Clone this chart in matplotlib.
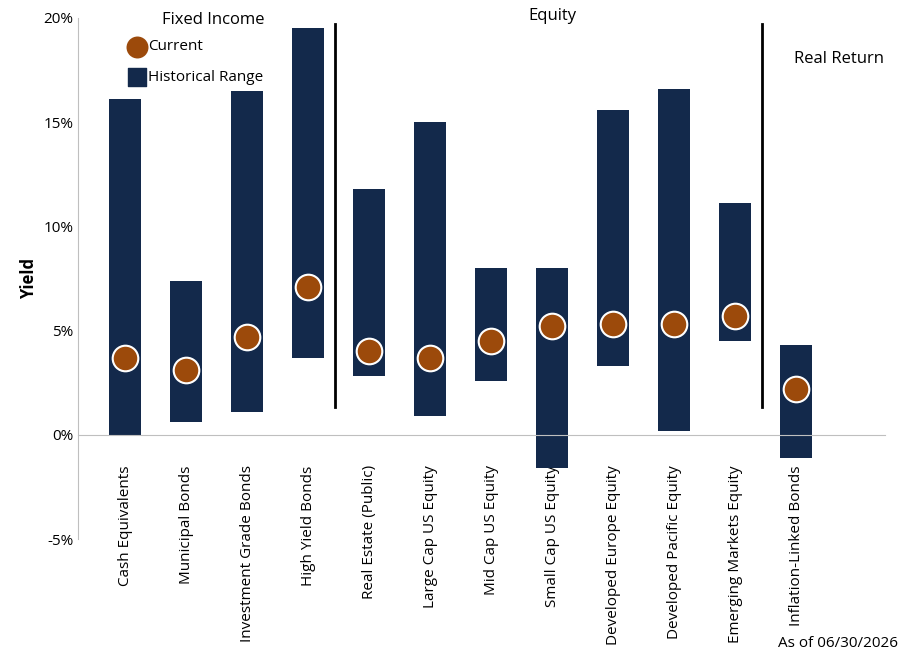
import matplotlib
matplotlib.use("Agg")
import matplotlib.pyplot as plt
from matplotlib.ticker import FuncFormatter

plt.rcParams['font.family'] = ['Open Sans', 'DejaVu Sans']

categories = ["Cash Equivalents", "Municipal Bonds", "Investment Grade Bonds", "High Yield Bonds",
              "Real Estate (Public)", "Large Cap US Equity", "Mid Cap US Equity", "Small Cap US Equity",
              "Developed Europe Equity", "Developed Pacific Equity", "Emerging Markets Equity",
              "Inflation-Linked Bonds"]
range_low = [0.0, 0.6, 1.1, 3.7, 2.8, 0.9, 2.6, -1.6, 3.3, 0.2, 4.5, -1.1]
range_high = [16.1, 7.4, 16.5, 19.5, 11.8, 15.0, 8.0, 8.0, 15.6, 16.6, 11.1, 4.3]
current = [3.7, 3.1, 4.7, 7.1, 4.0, 3.7, 4.5, 5.2, 5.3, 5.3, 5.7, 2.2]

navy = "#13294B"
brown = "#9C4A0B"

fig = plt.figure(figsize=(9.08, 6.59), dpi=100)
ax = fig.add_axes([0.086, 0.182, 0.889, 0.791])
x = list(range(len(categories)))
ax.bar(x, [h - l for h, l in zip(range_high, range_low)], bottom=range_low, width=0.53, color=navy, zorder=2)
ax.scatter(x, current, s=340, color=brown, edgecolor="white", linewidth=1.5, zorder=3)

ax.plot([3.44, 3.44], [19.7, 1.35], color="black", lw=2)
ax.plot([10.44, 10.44], [19.7, 1.35], color="black", lw=2)

ax.set_xlim(-0.77, 12.46)
ax.set_ylim(-5, 20)
ax.set_yticks([-5, 0, 5, 10, 15, 20])
ax.yaxis.set_major_formatter(FuncFormatter(lambda v, p: f"{int(v)}%"))
ax.spines['top'].set_visible(False)
ax.spines['right'].set_visible(False)
ax.spines['bottom'].set_position(('data', 0))
ax.spines['bottom'].set_color('#bfbfbf')
ax.spines['left'].set_color('#bfbfbf')
ax.set_xticks(x)
ax.set_xticklabels(categories, rotation=90, fontsize=11)
ax.tick_params(axis='x', length=0, pad=22)
ax.tick_params(axis='y', labelsize=11, length=0)
ax.set_ylabel("Yield", fontsize=12, fontweight='bold')

ax.text(1.45, 19.9, "Fixed Income", fontsize=12, ha='center', va='center')
ax.text(7.0, 20.1, "Equity", fontsize=12, ha='center', va='center')
ax.text(11.7, 18.0, "Real Return", fontsize=12, ha='center', va='center')
ax.scatter([0.2], [18.6], s=300, color=brown, edgecolor="white", linewidth=1.5, clip_on=False)
ax.scatter([0.2], [17.15], s=160, marker='s', color=navy, clip_on=False)
ax.text(0.37, 18.6, "Current", fontsize=11, va='center')
ax.text(0.37, 17.15, "Historical Range", fontsize=11, va='center')
fig.text(0.923, 0.024, "As of 06/30/2026", fontsize=11, ha='center', va='center')

fig.savefig("out.png", dpi=100)
